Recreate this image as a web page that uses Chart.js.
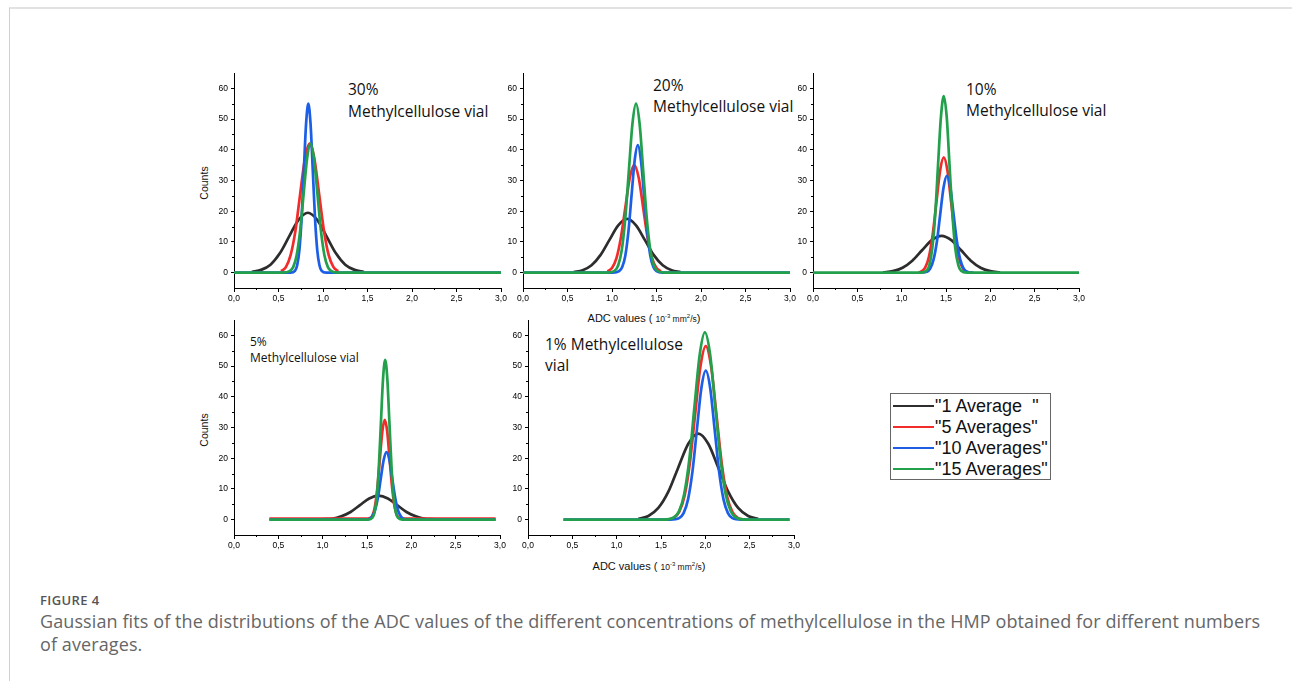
<!DOCTYPE html>
<html>
<head>
<meta charset="utf-8">
<script src="https://cdn.jsdelivr.net/npm/chart.js@4.4.1/dist/chart.umd.min.js"></script>
<style>
  html, body { margin: 0; padding: 0; background: #fff; }
  #page { position: relative; width: 1292px; height: 681px; overflow: hidden; }
  #frame { position: absolute; left: 9px; top: 7px; right: -5px; bottom: -5px;
           border-top: 2px solid #e2e2e2; border-left: 1px solid #d0d0d0; }
  canvas { position: absolute; }
  .note { position: absolute; font-family: "Open Sans", sans-serif; color: #111; white-space: nowrap; }
  .ytitle { position: absolute; font-family: "Liberation Sans", Arial, sans-serif; font-size: 10.5px; color: #111;
            transform: translate(-50%, -50%) rotate(-90deg); white-space: nowrap; }
  .xtitle { position: absolute; font-family: "Liberation Sans", Arial, sans-serif; font-size: 11px; color: #111;
            transform: translateX(-50%); white-space: nowrap; line-height: 13px; }
  .xtitle small { font-size: 8.5px; }
  .xtitle sup { font-size: 6px; vertical-align: 4px; }
  #legend { position: absolute; left: 890px; top: 393px; width: 161px; height: 87px;
            border: 1px solid #666; box-sizing: border-box;
            font-family: "Liberation Sans", Arial, sans-serif; font-size: 18px; color: #111; }
  .lrow { position: absolute; left: 2px; height: 21px; line-height: 21px; white-space: pre; }
  .lrow i { display: inline-block; width: 41px; height: 2px; vertical-align: middle; margin-right: 1px; position: relative; top: -1px; }
  #figlabel { position: absolute; left: 40px; top: 591px; font-family: "Open Sans", sans-serif; font-weight: 600;
              font-size: 13px; letter-spacing: 0.4px; color: #555; }
  #caption { position: absolute; left: 40px; top: 610px; font-family: "Open Sans", sans-serif;
             font-size: 18px; letter-spacing: 0.1px; line-height: 23px; color: #666; white-space: nowrap; }
</style>
</head>
<body>
<div id="page">
  <div id="frame"></div>

  <div class="note" style="left:348px;top:79px;font-size:15.5px;line-height:21.6px">30%<br>Methylcellulose vial</div>
  <div class="note" style="left:653px;top:75px;font-size:15.5px;line-height:21px">20%<br>Methylcellulose vial</div>
  <div class="note" style="left:966px;top:79px;font-size:15.5px;line-height:21.3px">10%<br>Methylcellulose vial</div>
  <div class="note" style="left:250px;top:334px;font-size:12px;line-height:15.6px">5%<br>Methylcellulose vial</div>
  <div class="note" style="left:545px;top:334px;font-size:15.5px;line-height:21px">1% Methylcellulose<br>vial</div>

  <div class="ytitle" style="left:204px;top:183px">Counts</div>
  <div class="ytitle" style="left:204px;top:430px">Counts</div>
  <div class="xtitle" style="left:644px;top:310px">ADC values ( <small>10<sup>-3</sup> mm<sup>2</sup>/s</small>)</div>
  <div class="xtitle" style="left:649px;top:558px">ADC values ( <small>10<sup>-3</sup> mm<sup>2</sup>/s</small>)</div>

  <div id="legend"></div>

  <div id="figlabel">FIGURE 4</div>
  <div id="caption">Gaussian fits of the distributions of the ADC values of the different concentrations of methylcellulose in the HMP obtained for different numbers<br>of averages.</div>
</div>

<script>
/* ---- data: [ADC value, counts] ---- */
var xTicks = [0, 0.5, 1.0, 1.5, 2.0, 2.5, 3.0];
var xMinor = [0.25, 0.75, 1.25, 1.75, 2.25, 2.75];
var yTicks = [0, 10, 20, 30, 40, 50, 60];
var yMinor = [5, 15, 25, 35, 45, 55];

var seriesNames  = ['"1 Average  "', '"5 Averages"', '"10 Averages"', '"15 Averages"'];
var seriesColors = ['#2d2d2d', '#f22b2b', '#1c5fe6', '#22a04c'];

// 30 %
var mc30_avg1  = [[0.20,0.2],[0.305,0.9],[0.41,2.6],[0.515,6.3],[0.62,11.8],[0.725,17.2],[0.83,19.5],[0.935,17.2],[1.04,11.8],[1.145,6.3],[1.25,2.6],[1.355,0.9],[1.46,0.2]];
var mc30_avg5  = [[0.529,0.5],[0.583,1.8],[0.636,5.7],[0.690,13.6],[0.743,25.5],[0.797,37.1],[0.85,42],[0.903,37.1],[0.957,25.5],[1.011,13.6],[1.064,5.7],[1.118,1.8],[1.171,0.5]];
var mc30_avg10 = [[0,0],[0.635,0],[0.685,0.6],[0.71,2.4],[0.735,7.4],[0.76,17.9],[0.785,33.4],[0.81,48.5],[0.835,55],[0.86,48.5],[0.885,33.4],[0.91,17.9],[0.935,7.4],[0.96,2.4],[0.985,0.6],[1.035,0],[3,0]];
var mc30_avg15 = [[0,0],[0.548,0],[0.626,0.5],[0.665,1.8],[0.704,5.7],[0.743,13.6],[0.782,25.5],[0.821,37.1],[0.86,42],[0.899,37.1],[0.938,25.5],[0.977,13.6],[1.016,5.7],[1.055,1.8],[1.094,0.5],[1.172,0],[3,0]];

// 20 %
var mc20_avg1  = [[0.57,0.2],[0.67,0.8],[0.77,2.4],[0.87,5.7],[0.97,10.6],[1.07,15.4],[1.17,17.5],[1.27,15.4],[1.37,10.6],[1.47,5.7],[1.57,2.4],[1.67,0.8],[1.77,0.2]];
var mc20_avg5  = [[0.95,0.4],[1.0,1.5],[1.05,4.7],[1.1,11.4],[1.15,21.2],[1.2,30.9],[1.25,35],[1.3,30.9],[1.35,21.2],[1.4,11.4],[1.45,4.7],[1.5,1.5],[1.55,0.4]];
var mc20_avg10 = [[0,0],[1.01,0],[1.08,0.5],[1.115,1.8],[1.15,5.6],[1.185,13.5],[1.22,25.2],[1.255,36.6],[1.29,41.5],[1.325,36.6],[1.36,25.2],[1.395,13.5],[1.43,5.6],[1.465,1.8],[1.5,0.5],[1.57,0],[3,0]];
var mc20_avg15 = [[0,0],[0.95,0],[1.03,0.6],[1.07,2.4],[1.11,7.4],[1.15,17.9],[1.19,33.4],[1.23,48.5],[1.27,55],[1.31,48.5],[1.35,33.4],[1.39,17.9],[1.43,7.4],[1.47,2.4],[1.51,0.6],[1.59,0],[3,0]];

// 10 %
var mc10_avg1  = [[0.79,0.1],[0.9,0.5],[1.01,1.6],[1.12,3.9],[1.23,7.3],[1.34,10.6],[1.45,12],[1.56,10.6],[1.67,7.3],[1.78,3.9],[1.89,1.6],[2.0,0.5],[2.11,0.1]];
var mc10_avg5  = [[1.19,0],[1.223,0.4],[1.265,1.6],[1.307,5.1],[1.349,12.2],[1.391,22.7],[1.433,33.1],[1.475,37.5],[1.517,33.1],[1.559,22.7],[1.601,12.2],[1.643,5.1],[1.685,1.6],[1.727,0.4],[1.76,0]];
var mc10_avg10 = [[1.21,0],[1.285,0.3],[1.323,1.4],[1.36,4.3],[1.398,10.2],[1.435,19.1],[1.473,27.8],[1.51,31.5],[1.548,27.8],[1.585,19.1],[1.623,10.2],[1.66,4.3],[1.698,1.4],[1.735,0.3],[1.81,0]];
var mc10_avg15 = [[0,0],[1.215,0],[1.28,0.6],[1.313,2.5],[1.345,7.8],[1.378,18.7],[1.41,34.9],[1.443,50.7],[1.475,57.5],[1.508,50.7],[1.54,34.9],[1.573,18.7],[1.605,7.8],[1.638,2.5],[1.67,0.6],[1.735,0],[3,0]];

// 5 %
var mc5_avg1  = [[1.0,0.1],[1.105,0.3],[1.21,1.1],[1.315,2.5],[1.42,4.7],[1.525,6.9],[1.63,7.8],[1.735,6.9],[1.84,4.7],[1.945,2.5],[2.05,1.1],[2.155,0.3],[2.26,0.1]];
var mc5_avg5  = [[0.4,0.3],[1.48,0.3],[1.535,0.5],[1.563,1.4],[1.59,4.4],[1.618,10.6],[1.645,19.7],[1.673,28.7],[1.70,32.5],[1.728,28.7],[1.755,19.7],[1.783,10.6],[1.81,4.4],[1.838,1.4],[1.865,0.5],[1.92,0.3],[2.95,0.3]];
var mc5_avg10 = [[0.4,0],[1.46,0],[1.525,0.2],[1.558,1.0],[1.59,3.0],[1.623,7.1],[1.655,13.3],[1.688,19.4],[1.72,22],[1.753,19.4],[1.785,13.3],[1.818,7.1],[1.85,3.0],[1.883,1.0],[1.915,0.2],[1.98,0],[2.95,0]];
var mc5_avg15 = [[0.4,0],[1.513,0],[1.561,0.6],[1.585,2.3],[1.609,7.0],[1.633,16.9],[1.657,31.5],[1.681,45.9],[1.705,52],[1.729,45.9],[1.753,31.5],[1.777,16.9],[1.801,7.0],[1.825,2.3],[1.849,0.6],[1.897,0],[2.95,0]];

// 1 %
var mc1_avg1  = [[1.245,0.3],[1.358,1.2],[1.47,3.8],[1.583,9.1],[1.695,17.0],[1.808,24.7],[1.92,28],[2.033,24.7],[2.145,17.0],[2.258,9.1],[2.37,3.8],[2.483,1.2],[2.595,0.3]];
var mc1_avg5  = [[1.58,0],[1.645,0.6],[1.705,2.5],[1.765,7.6],[1.825,18.3],[1.885,34.3],[1.945,49.9],[2.005,56.5],[2.065,49.9],[2.125,34.3],[2.185,18.3],[2.245,7.6],[2.305,2.5],[2.365,0.6],[2.43,0]];
var mc1_avg10 = [[0.4,0],[1.605,0],[1.705,0.5],[1.755,2.1],[1.805,6.6],[1.855,15.7],[1.905,29.4],[1.955,42.8],[2.005,48.5],[2.055,42.8],[2.105,29.4],[2.155,15.7],[2.205,6.6],[2.255,2.1],[2.305,0.5],[2.405,0],[2.95,0]];
var mc1_avg15 = [[0.4,0],[1.527,0],[1.644,0.7],[1.703,2.7],[1.761,8.3],[1.82,19.8],[1.878,37.0],[1.937,53.8],[1.995,61],[2.054,53.8],[2.112,37.0],[2.171,19.8],[2.229,8.3],[2.288,2.7],[2.346,0.7],[2.463,0],[2.95,0]];

/* ---- layout: plot area of each panel in page pixels ---- */
var panels = [
    { left: 234, top: 73,  w: 267, h: 215, series: [mc30_avg1, mc30_avg5, mc30_avg10, mc30_avg15] },
    { left: 523, top: 73,  w: 267, h: 215, series: [mc20_avg1, mc20_avg5, mc20_avg10, mc20_avg15] },
    { left: 813, top: 73,  w: 266, h: 215, series: [mc10_avg1, mc10_avg5, mc10_avg10, mc10_avg15] },
    { left: 234, top: 320, w: 266, h: 215, series: [mc5_avg1,  mc5_avg5,  mc5_avg10,  mc5_avg15] },
    { left: 528, top: 320, w: 266, h: 215, series: [mc1_avg1,  mc1_avg5,  mc1_avg10,  mc1_avg15] }
];

var PAD_L = 40, PAD_T = 10, PAD_R = 10, PAD_B = 22;

// minor tick marks, drawn through the scales
var minorTicks = {
    id: 'minorTicks',
    afterDraw: function (chart) {
        var ctx = chart.ctx, a = chart.chartArea;
        var xs = chart.scales.x, ys = chart.scales.y;
        ctx.save();
        ctx.strokeStyle = '#000';
        ctx.lineWidth = 1;
        ctx.beginPath();
        xMinor.forEach(function (v) {
            var px = Math.round(xs.getPixelForValue(v)) + 0.5;
            ctx.moveTo(px, a.bottom); ctx.lineTo(px, a.bottom + 2);
        });
        yMinor.forEach(function (v) {
            var py = Math.round(ys.getPixelForValue(v)) + 0.5;
            ctx.moveTo(a.left, py); ctx.lineTo(a.left - 2, py);
        });
        ctx.stroke();
        ctx.restore();
    }
};

var tickFont = { family: 'Liberation Sans, Arial, sans-serif', size: 8.5 };

panels.forEach(function (p) {
    var cv = document.createElement('canvas');
    var cw = p.w + PAD_L + PAD_R, ch = p.h + PAD_T + PAD_B;
    cv.width = cw; cv.height = ch;
    cv.style.left = (p.left - PAD_L) + 'px';
    cv.style.top = (p.top - PAD_T) + 'px';
    cv.style.width = cw + 'px'; cv.style.height = ch + 'px';
    document.getElementById('page').appendChild(cv);

    var datasets = p.series.map(function (pts, i) {
        return {
            label: seriesNames[i],
            data: pts.map(function (d) { return { x: d[0], y: d[1] }; }),
            borderColor: seriesColors[i],
            borderWidth: 2.7,
            pointRadius: 0,
            cubicInterpolationMode: 'monotone',
            fill: false,
            order: 4 - i
        };
    });

    new Chart(cv, {
        type: 'line',
        data: { datasets: datasets },
        options: {
            responsive: false,
            animation: false,
            devicePixelRatio: 1,
            layout: { padding: { left: 0, top: PAD_T, right: PAD_R, bottom: 0 } },
            plugins: { legend: { display: false }, tooltip: { enabled: false } },
            scales: {
                x: {
                    type: 'linear', min: 0, max: 3,
                    afterBuildTicks: function (s) { s.ticks = xTicks.map(function (v) { return { value: v }; }); },
                    afterFit: function (s) { s.height = PAD_B; },
                    grid: { drawOnChartArea: false, color: '#000', tickLength: 4 },
                    border: { color: '#000', width: 1 },
                    ticks: {
                        font: tickFont, color: '#000', padding: 2, maxRotation: 0, autoSkip: false,
                        callback: function (v) { return v.toFixed(1).replace('.', ','); }
                    }
                },
                y: {
                    type: 'linear', min: -5, max: 65,
                    afterBuildTicks: function (s) { s.ticks = yTicks.map(function (v) { return { value: v }; }); },
                    afterFit: function (s) { s.width = PAD_L; },
                    grid: { drawOnChartArea: false, color: '#000', tickLength: 3 },
                    border: { color: '#000', width: 1 },
                    ticks: { font: tickFont, color: '#000', padding: 3 }
                }
            }
        },
        plugins: [minorTicks]
    });
});

/* legend */
var legendEl = document.getElementById('legend');
seriesNames.forEach(function (name, i) {
    var r = document.createElement('div');
    r.className = 'lrow';
    r.style.top = (2 + i * 21) + 'px';
    r.innerHTML = '<i style="background:' + seriesColors[i] + '"></i>' + name;
    legendEl.appendChild(r);
});
</script>
</body>
</html>
